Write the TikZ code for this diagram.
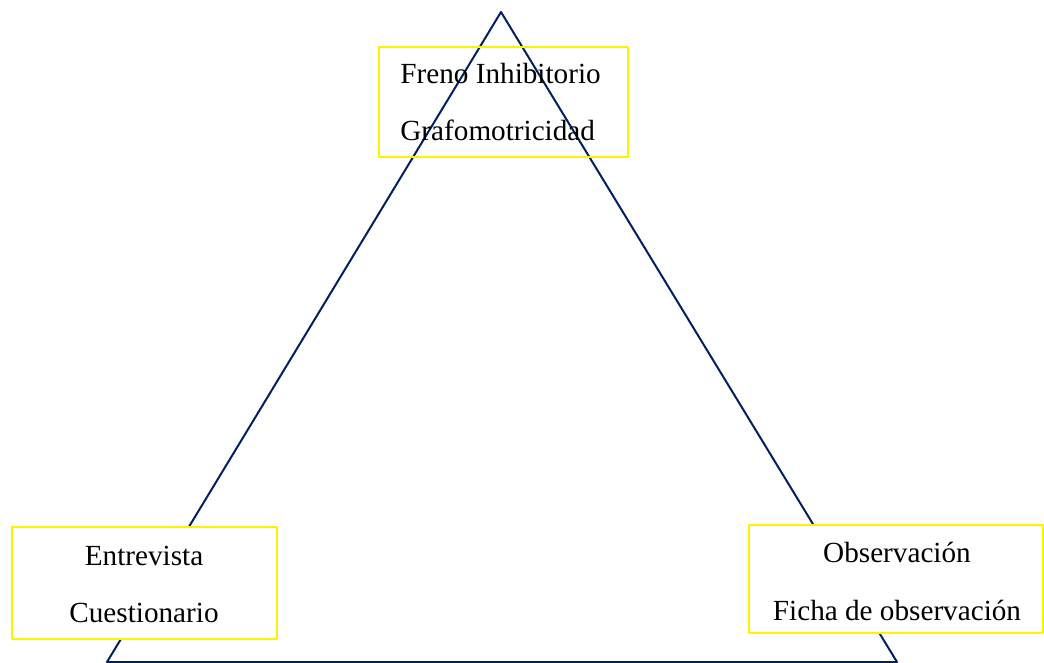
\documentclass[tikz,border=0pt]{standalone}
\usepackage{fontspec}
\setmainfont{Liberation Serif}
\definecolor{trinavy}{RGB}{0,32,96}
\tikzset{
  cajon/.style={draw=yellow, line width=0.75pt, rectangle, inner sep=0pt},
  linea/.style={inner sep=0pt}
}
\begin{document}
\begin{tikzpicture}[x=0.5pt, y=-0.5pt, line join=round, font=\fontsize{14.6}{17}\selectfont]
  \useasboundingbox (0,0) rectangle (1044,663);
  % vertices del triangulo
  \coordinate (apex) at (501,12);
  \coordinate (izq) at (107,662);
  \coordinate (der) at (897,662);
  \draw[trinavy, line width=1pt] (apex)--(izq)--(der)--cycle;
  % cajas
  \node[cajon, minimum width=124.5pt, minimum height=55pt] (arriba) at (503.5,102) {};
  \node[cajon, fill=white, minimum width=132.5pt, minimum height=56pt] (izqcaja) at (144.5,583) {};
  \node[cajon, fill=white, minimum width=147pt, minimum height=54pt] (dercaja) at (896,579) {};
  % textos
  \node[linea, anchor=base west] (freno) at (400,84) {Freno Inhibitorio};
  \node[linea, anchor=base west] (grafo) at (400,141) {Grafomotricidad};
  \node[linea, anchor=base] (entre) at (144,565) {Entrevista};
  \node[linea, anchor=base] (cuest) at (144,622) {Cuestionario};
  \node[linea, anchor=base] (obs) at (897,562) {Observación};
  \node[linea, anchor=base] (ficha) at (897,620) {Ficha de observación};
\end{tikzpicture}
\end{document}
